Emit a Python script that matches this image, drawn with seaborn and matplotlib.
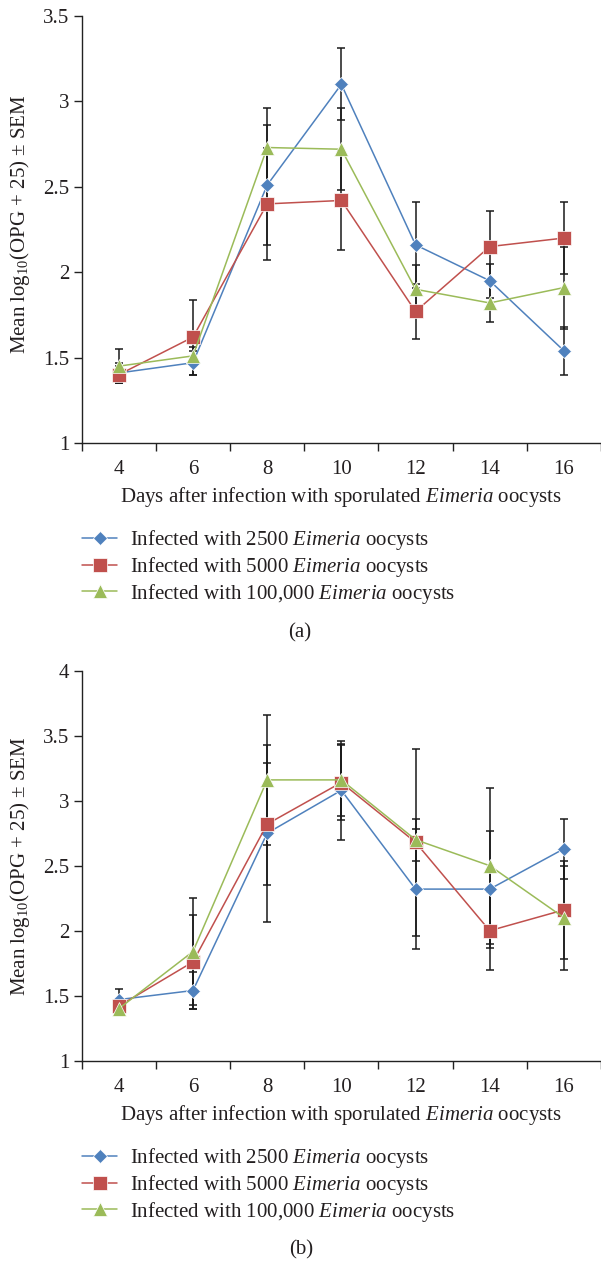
import numpy as np
import pandas as pd
import matplotlib
matplotlib.use("Agg")
import matplotlib.pyplot as plt
from matplotlib.lines import Line2D
import seaborn as sns

# ---------------- data ----------------
days = [4, 6, 8, 10, 12, 14, 16]
series_names = ["Infected with 2500 $\\mathit{Eimeria}$ oocysts",
                "Infected with 5000 $\\mathit{Eimeria}$ oocysts",
                "Infected with 100,000 $\\mathit{Eimeria}$ oocysts"]

# panel (a)
a_2500 = [1.41, 1.47, 2.51, 3.10, 2.16, 1.95, 1.54]
a_5000 = [1.40, 1.62, 2.40, 2.42, 1.77, 2.15, 2.20]
a_100k = [1.45, 1.51, 2.73, 2.72, 1.90, 1.82, 1.91]
a_sem_2500 = [0.06, 0.07, 0.35, 0.21, 0.25, 0.10, 0.14]
a_sem_5000 = [0.05, 0.22, 0.33, 0.29, 0.16, 0.21, 0.21]
a_sem_100k = [0.10, 0.05, 0.23, 0.24, 0.14, 0.11, 0.24]

# panel (b)
b_2500 = [1.47, 1.54, 2.75, 3.08, 2.32, 2.32, 2.63]
b_5000 = [1.42, 1.76, 2.82, 3.14, 2.68, 2.00, 2.16]
b_100k = [1.40, 1.84, 3.16, 3.16, 2.70, 2.50, 2.10]
b_sem_2500 = [0.08, 0.14, 0.68, 0.38, 0.46, 0.45, 0.23]
b_sem_5000 = [0.05, 0.36, 0.47, 0.29, 0.72, 0.30, 0.38]
b_sem_100k = [0.05, 0.41, 0.50, 0.28, 0.16, 0.60, 0.40]

y_ticks_a = [1, 1.5, 2, 2.5, 3, 3.5]
y_ticks_b = [1, 1.5, 2, 2.5, 3, 3.5, 4]

colors = ["#4F81BD", "#C0504D", "#9BBB59"]
markers = ["D", "s", "^"]
msizes = [7.5, 10.5, 10.5]

# ---------------- style ----------------
sns.set_theme(style="white")
plt.rcParams["font.family"] = ["Liberation Serif", "DejaVu Serif"]
plt.rcParams["mathtext.fontset"] = "custom"
plt.rcParams["mathtext.rm"] = "Liberation Serif"
plt.rcParams["mathtext.it"] = "Liberation Serif:italic"
TXT = "#231f20"
FS = 15

W, H = 601, 1263
fig = plt.figure(figsize=(W / 100, H / 100), dpi=100)

left = 81.7 / W
width = (W - 81.7) / W
ax_a = fig.add_axes([left, 1 - 443 / H, width, 427 / H])
ax_b = fig.add_axes([left, 1 - 1060.7 / H, width, 390 / H])


def draw(ax, vals, sems, yticks, ylim, axh, xlab_off, ylab_y):
    df = pd.DataFrame({
        "day": days * 3,
        "val": vals[0] + vals[1] + vals[2],
        "series": sum([[n] * len(days) for n in series_names], []),
    })
    for v, s in zip(vals, sems):
        ax.errorbar(days, v, yerr=s, fmt="none", ecolor="#1a1a1a",
                    elinewidth=1.1, capsize=3.2, capthick=1.1, zorder=2)
    sns.lineplot(data=df, x="day", y="val", hue="series", style="series",
                 palette=dict(zip(series_names, colors)),
                 markers=dict(zip(series_names, markers)),
                 dashes=False, ax=ax, linewidth=1.1,
                 markersize=10, legend=False, zorder=3)
    for line, ms in zip(ax.lines[-3:], msizes):
        line.set_markersize(ms)
        line.set_markeredgecolor("white")
        line.set_markeredgewidth(0.5)
    ax.set_xlim(3, 17)
    ax.set_ylim(*ylim)
    ax.set_yticks(yticks)
    ax.set_yticklabels([("%g" % t) for t in yticks], fontsize=FS, color=TXT)
    ax.set_xticks(days)
    ax.set_xticklabels([str(d) for d in days], fontsize=FS, color=TXT)
    ax.set_xticks(np.arange(3, 18, 2), minor=True)
    ax.tick_params(axis="x", which="major", length=0, pad=12.5)
    ax.tick_params(axis="x", which="minor", length=6, width=1.0,
                   color="#222", direction="out", bottom=True)
    ax.tick_params(axis="y", which="major", length=6, width=1.0,
                   color="#222", direction="out", left=True, pad=3)
    for s in ["top", "right"]:
        ax.spines[s].set_visible(False)
    for s in ["left", "bottom"]:
        ax.spines[s].set_color("#222")
        ax.spines[s].set_linewidth(1.0)
    ax.set_xlabel("Days after infection with sporulated $\\mathit{Eimeria}$ oocysts",
                  fontsize=FS, color=TXT)
    ax.xaxis.label.set_va("center")
    ax.xaxis.set_label_coords(0.5, -xlab_off / axh)
    ax.set_ylabel("Mean log$_{10}$(OPG + 25) ± SEM", fontsize=FS, color=TXT)
    ax.yaxis.label.set_va("center")
    ax.yaxis.set_label_coords((20 - 81.7) / (W - 81.7), ylab_y)
    ax.grid(False)


draw(ax_a, [a_2500, a_5000, a_100k], [a_sem_2500, a_sem_5000, a_sem_100k],
     y_ticks_a, (1, 3.5), 427, 497 - 443, 0.512)
draw(ax_b, [b_2500, b_5000, b_100k], [b_sem_2500, b_sem_5000, b_sem_100k],
     y_ticks_b, (1, 4), 390, 1115 - 1060.7, 0.5)


def make_legend(ymid):
    handles = [Line2D([], [], color=c, marker=m, markersize=ms, linewidth=1.1,
                      markeredgecolor="white", markeredgewidth=0.5)
               for c, m, ms in zip(colors, markers, msizes)]
    leg = fig.legend(handles, series_names, loc="center left",
                     bbox_to_anchor=(82 / W, 1 - ymid / H), frameon=False,
                     fontsize=FS, borderpad=0, borderaxespad=0,
                     handlelength=1.7, handletextpad=0.6, labelspacing=0.13)
    for t in leg.get_texts():
        t.set_color(TXT)
    return leg


make_legend(567)
make_legend(1185)

fig.text(300 / W, 1 - 633 / H, "(a)", ha="center", va="center", fontsize=FS,
         color=TXT)
fig.text(301 / W, 1 - 1250 / H, "(b)", ha="center", va="center", fontsize=FS,
         color=TXT)

fig.savefig("out.png", dpi=100)
